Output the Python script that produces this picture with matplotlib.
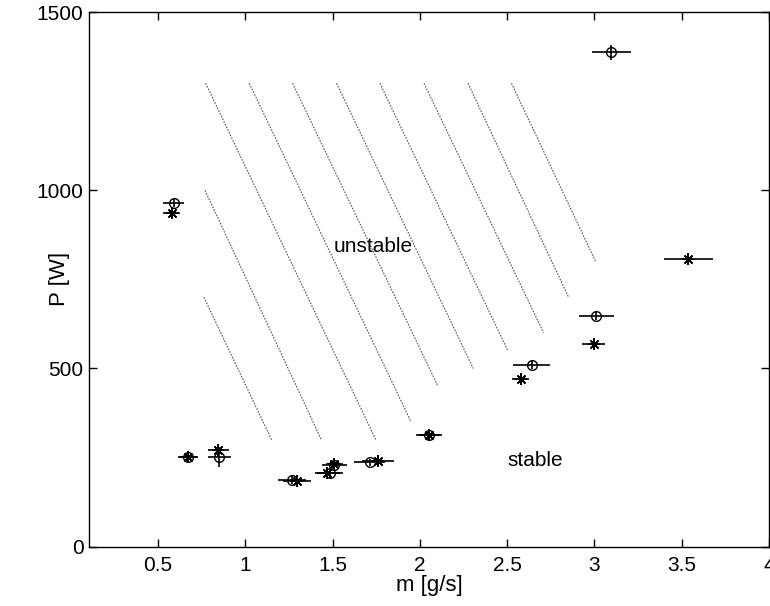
import matplotlib
matplotlib.use("Agg")
import matplotlib.pyplot as plt

plt.rcParams['font.family'] = ['Liberation Sans', 'DejaVu Sans']

# circle series: m [g/s], P [W], errors
circ_m = [0.59, 0.673, 0.851, 1.267, 1.485, 1.51, 1.713, 2.053, 2.64, 3.01, 3.097]
circ_P = [964, 251, 252, 187, 206, 229, 237, 313, 510, 647, 1387]
circ_merr = [0.06, 0.057, 0.067, 0.08, 0.075, 0.07, 0.09, 0.075, 0.105, 0.10, 0.11]
circ_Perr = [12, 10, 28, 10, 12, 12, 10, 10, 12, 12, 21]

# asterisk series
star_m = [0.578, 0.673, 0.845, 1.294, 1.47, 1.51, 1.76, 2.055, 2.578, 2.996, 3.538]
star_P = [935, 251, 271, 184, 208, 233, 241, 313, 470, 570, 807]
star_merr = [0.05, 0.05, 0.06, 0.08, 0.07, 0.05, 0.09, 0.06, 0.05, 0.065, 0.14]

# boundary hatch lines (start / end)
hatch_m0 = [0.763, 0.769, 0.773, 1.023, 1.271, 1.523, 1.771, 2.024, 2.276, 2.525]
hatch_P0 = [700, 1000, 1300, 1300, 1300, 1300, 1300, 1300, 1300, 1300]
hatch_m1 = [1.151, 1.436, 1.748, 1.95, 2.104, 2.306, 2.504, 2.709, 2.852, 3.007]
hatch_P1 = [300, 300, 300, 350, 450, 500, 550, 600, 700, 800]

xticks = [0.5, 1, 1.5, 2, 2.5, 3, 3.5, 4]
xticklabels = ['0.5', '1', '1.5', '2', '2.5', '3', '3.5', '4']
yticks = [0, 500, 1000, 1500]

fig = plt.figure(figsize=(7.7, 6.06), dpi=100)
ax = fig.add_axes([89/770, 1 - 546.7/606, (769 - 89)/770, (546.7 - 12)/606])

for a, b, c, d in zip(hatch_m0, hatch_P0, hatch_m1, hatch_P1):
    ax.plot([a, c], [b, d], linestyle=(0, (1.5, 1.2)), color='#555555', linewidth=0.8)

ax.errorbar(circ_m, circ_P, xerr=circ_merr, yerr=circ_Perr, fmt='o', mfc='none',
            mec='black', ms=7, mew=1.0, ecolor='black', elinewidth=1.2, capsize=0)
ax.errorbar(star_m, star_P, xerr=star_merr, fmt='none', ecolor='black',
            elinewidth=1.2, capsize=0)
ax.plot(star_m, star_P, linestyle='none', marker=(4, 2, 0), color='black', ms=8, mew=1.1)
ax.plot(star_m, star_P, linestyle='none', marker=(4, 2, 45), color='black', ms=8, mew=1.1)

ax.text(1.73, 841, 'unstable', fontsize=15, ha='center', va='center')
ax.text(2.66, 243, 'stable', fontsize=15, ha='center', va='center')

ax.set_xlim(0.105, 4.0)
ax.set_ylim(0, 1500)
ax.set_xticks(xticks)
ax.set_xticklabels(xticklabels)
ax.set_yticks(yticks)
ax.tick_params(direction='in', top=True, right=True, length=6, width=1,
               labelsize=15)
ax.tick_params(axis='y', pad=4)
ax.tick_params(axis='x', pad=7)
for s in ax.spines.values():
    s.set_linewidth(1.0)
ax.set_xlabel('m [g/s]', fontsize=16, labelpad=0)
ax.set_ylabel('P [W]', fontsize=16, va='center', ha='center')
ax.yaxis.set_label_coords(-0.043, 0.5)

fig.savefig('out.png', dpi=100)
